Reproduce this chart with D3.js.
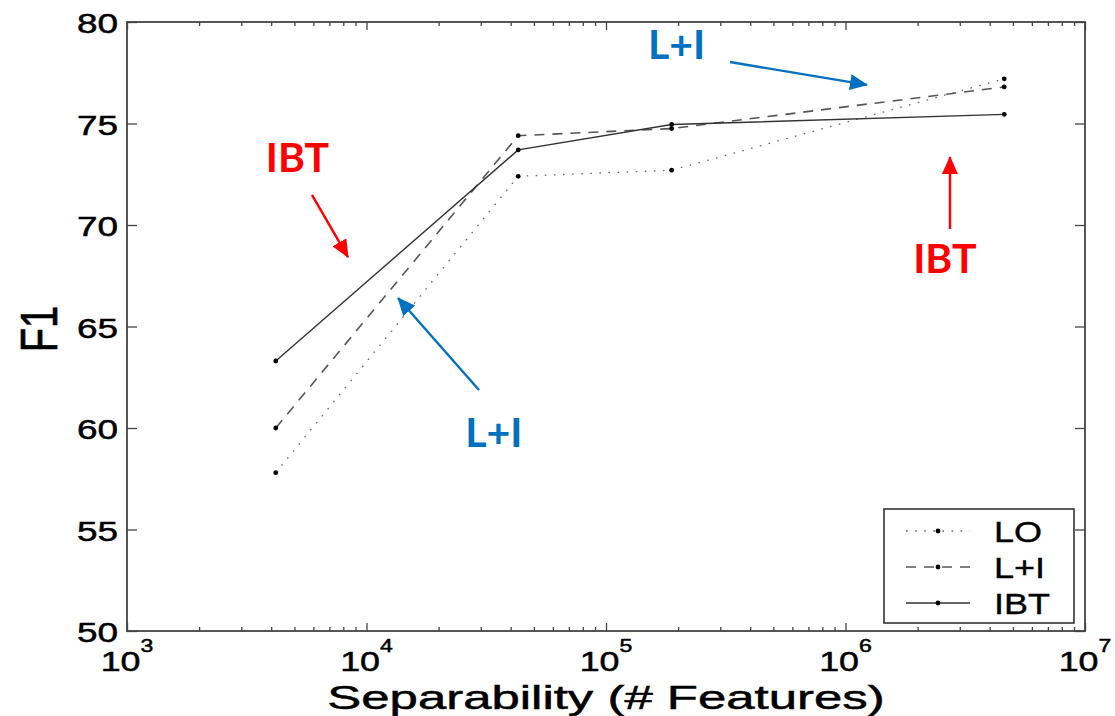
<!DOCTYPE html>
<html>
<head>
<meta charset="utf-8">
<script src="https://cdn.jsdelivr.net/npm/d3@7"></script>
<style>
  html, body { margin: 0; padding: 0; background: #fff; }
  svg { display: block; }
</style>
</head>
<body>
<svg id="chart" width="1115" height="716"></svg>
<script>
// ---- data ----
const features = [4180, 43000, 188000, 4600000];
const seriesNames = ["LO", "L+I", "IBT"];
const LO  = [57.8, 72.4, 72.7, 77.2];
const LI  = [60.0, 74.4, 74.75, 76.8];
const IBT = [63.3, 73.7, 74.95, 75.45];
const yTicks = [50, 55, 60, 65, 70, 75, 80];
const xTickExponents = [3, 4, 5, 6, 7];
const xLabel = "Separability (# Features)";
const yLabel = "F1";
// annotations in data coordinates
const annoTexts = [
  { text: "IBT", x: 5150,    y: 72.6,  color: "#FF0000" },
  { text: "L+I", x: 34000,   y: 59.06, color: "#0070C0" },
  { text: "L+I", x: 197000,  y: 78.18, color: "#0070C0" },
  { text: "IBT", x: 2600000, y: 67.64, color: "#FF0000" }
];
const annoArrows = [
  { x1: 5920,   y1: 71.48, x2: 8370,    y2: 68.42, color: "#FF0000" },
  { x1: 29490,  y1: 61.87, x2: 13540,   y2: 66.40, color: "#0070C0" },
  { x1: 329400, y1: 78.03, x2: 1229500, y2: 76.90, color: "#0070C0" },
  { x1: 2731000, y1: 69.80, x2: 2731000, y2: 73.35, color: "#FF0000" }
];

// ---- layout ----
const L = 127, R = 1085, T = 22, B = 631;
const svg = d3.select("#chart");
const x = d3.scaleLog().domain([1e3, 1e7]).range([L, R]);
const y = d3.scaleLinear().domain([50, 80]).range([B, T]);
const FONT = "'Liberation Sans', Arial, Helvetica, sans-serif";
const axisColor = "#444";

// ---- axes box ----
const majors = xTickExponents.map(e => Math.pow(10, e));
const minors = [];
for (let e = 3; e < 7; e++) for (let m = 2; m <= 9; m++) minors.push(m * Math.pow(10, e));

function styleAxis(g) {
  g.select(".domain").remove();
  g.selectAll("line").attr("stroke", axisColor).attr("stroke-width", 1.3);
  g.selectAll("text").remove();
}
svg.append("g").attr("transform", `translate(0,${B})`)
  .call(d3.axisBottom(x).tickValues(majors).tickSize(-8).tickFormat("")).call(styleAxis);
svg.append("g").attr("transform", `translate(0,${B})`)
  .call(d3.axisBottom(x).tickValues(minors).tickSize(-4).tickFormat("")).call(styleAxis);
svg.append("g").attr("transform", `translate(0,${T})`)
  .call(d3.axisTop(x).tickValues(majors).tickSize(-8).tickFormat("")).call(styleAxis);
svg.append("g").attr("transform", `translate(0,${T})`)
  .call(d3.axisTop(x).tickValues(minors).tickSize(-4).tickFormat("")).call(styleAxis);
svg.append("g").attr("transform", `translate(${L},0)`)
  .call(d3.axisLeft(y).tickValues(yTicks).tickSize(-10).tickFormat("")).call(styleAxis);
svg.append("g").attr("transform", `translate(${R},0)`)
  .call(d3.axisRight(y).tickValues(yTicks).tickSize(-10).tickFormat("")).call(styleAxis);

svg.append("rect").attr("x", L).attr("y", T).attr("width", R - L).attr("height", B - T)
  .attr("fill", "none").attr("stroke", axisColor).attr("stroke-width", 1.8);

// ---- tick labels ----
const SX = 1.32;
yTicks.forEach(v => {
  svg.append("g").attr("transform", `translate(118,${y(v) + 11}) scale(${SX},1)`)
    .append("text").attr("text-anchor", "end").attr("font-family", FONT)
    .attr("font-size", 28).attr("fill", "#000").attr("stroke", "#000").attr("stroke-width", 0.5)
    .text(v);
});
xTickExponents.forEach(e => {
  const t = svg.append("g").attr("transform", `translate(${x(Math.pow(10, e))},671) scale(1.28,1)`)
    .append("text").attr("text-anchor", "middle").attr("font-family", FONT)
    .attr("fill", "#000").attr("stroke", "#000").attr("stroke-width", 0.5);
  t.append("tspan").attr("font-size", 28).text("10");
  t.append("tspan").attr("font-size", 18).attr("dy", -19).text(e);
});

// axis titles
svg.append("g").attr("transform", `translate(${(L + R) / 2},708.5) scale(1.52,1)`)
  .append("text").attr("text-anchor", "middle").attr("font-family", FONT)
  .attr("font-size", 33.5).attr("fill", "#000").attr("stroke", "#000").attr("stroke-width", 0.5)
  .text(xLabel);
svg.append("g").attr("transform", `translate(57,329) scale(1.3,1) rotate(-90)`)
  .append("text").attr("text-anchor", "middle").attr("font-family", FONT)
  .attr("font-size", 40).attr("fill", "#000").attr("stroke", "#000").attr("stroke-width", 0.5)
  .text(yLabel);

// ---- series ----
const styles = [
  { name: seriesNames[0], vals: LO,  dash: "1.6,7.5", color: "#666", w: 1.3 },
  { name: seriesNames[1], vals: LI,  dash: "10,8",    color: "#555", w: 1.6 },
  { name: seriesNames[2], vals: IBT, dash: null,      color: "#333", w: 1.4 }
];
const line = d3.line().x(d => x(d[0])).y(d => y(d[1]));
styles.forEach(s => {
  const pts = features.map((f, i) => [f, s.vals[i]]);
  svg.append("path").datum(pts).attr("d", line).attr("fill", "none")
    .attr("stroke", s.color).attr("stroke-width", s.w)
    .attr("stroke-dasharray", s.dash);
  svg.selectAll(null).data(pts).enter().append("circle")
    .attr("cx", d => x(d[0])).attr("cy", d => y(d[1])).attr("r", 2.4).attr("fill", "#000");
});

// ---- legend ----
const lg = svg.append("g");
lg.append("rect").attr("x", 884).attr("y", 509).attr("width", 190).attr("height", 114)
  .attr("fill", "#fff").attr("stroke", "#333").attr("stroke-width", 1.6);
styles.forEach((s, i) => {
  const cy = 531 + i * 36;
  lg.append("line").attr("x1", 906).attr("x2", 970).attr("y1", cy).attr("y2", cy)
    .attr("stroke", s.color).attr("stroke-width", s.w).attr("stroke-dasharray", s.dash);
  lg.append("circle").attr("cx", 938).attr("cy", cy).attr("r", 2.4).attr("fill", "#000");
  lg.append("g").attr("transform", `translate(994,${cy + 11}) scale(1.2,1)`)
    .append("text").attr("font-family", FONT).attr("font-size", 30).attr("fill", "#000")
    .attr("stroke", "#000").attr("stroke-width", 0.4).text(s.name);
});

// ---- annotations ----
const defs = svg.append("defs");
["#FF0000", "#0070C0"].forEach((c, i) => {
  defs.append("marker").attr("id", "ah" + i).attr("markerUnits", "userSpaceOnUse")
    .attr("markerWidth", 18).attr("markerHeight", 16).attr("viewBox", "0 0 18 16")
    .attr("refX", 17).attr("refY", 8).attr("orient", "auto")
    .append("path").attr("d", "M0,0 L18,8 L0,16 Z").attr("fill", c);
});
annoArrows.forEach(a => {
  svg.append("line").attr("x1", x(a.x1)).attr("y1", y(a.y1))
    .attr("x2", x(a.x2)).attr("y2", y(a.y2))
    .attr("stroke", a.color).attr("stroke-width", 2.4)
    .attr("marker-end", `url(#ah${a.color === "#FF0000" ? 0 : 1})`);
});
annoTexts.forEach(a => {
  svg.append("text").attr("x", x(a.x)).attr("y", y(a.y)).attr("text-anchor", "middle")
    .attr("font-family", "Lato, 'Open Sans', sans-serif").attr("font-weight", "bold")
    .attr("font-size", 41).attr("fill", a.color).text(a.text);
});
</script>
</body>
</html>
